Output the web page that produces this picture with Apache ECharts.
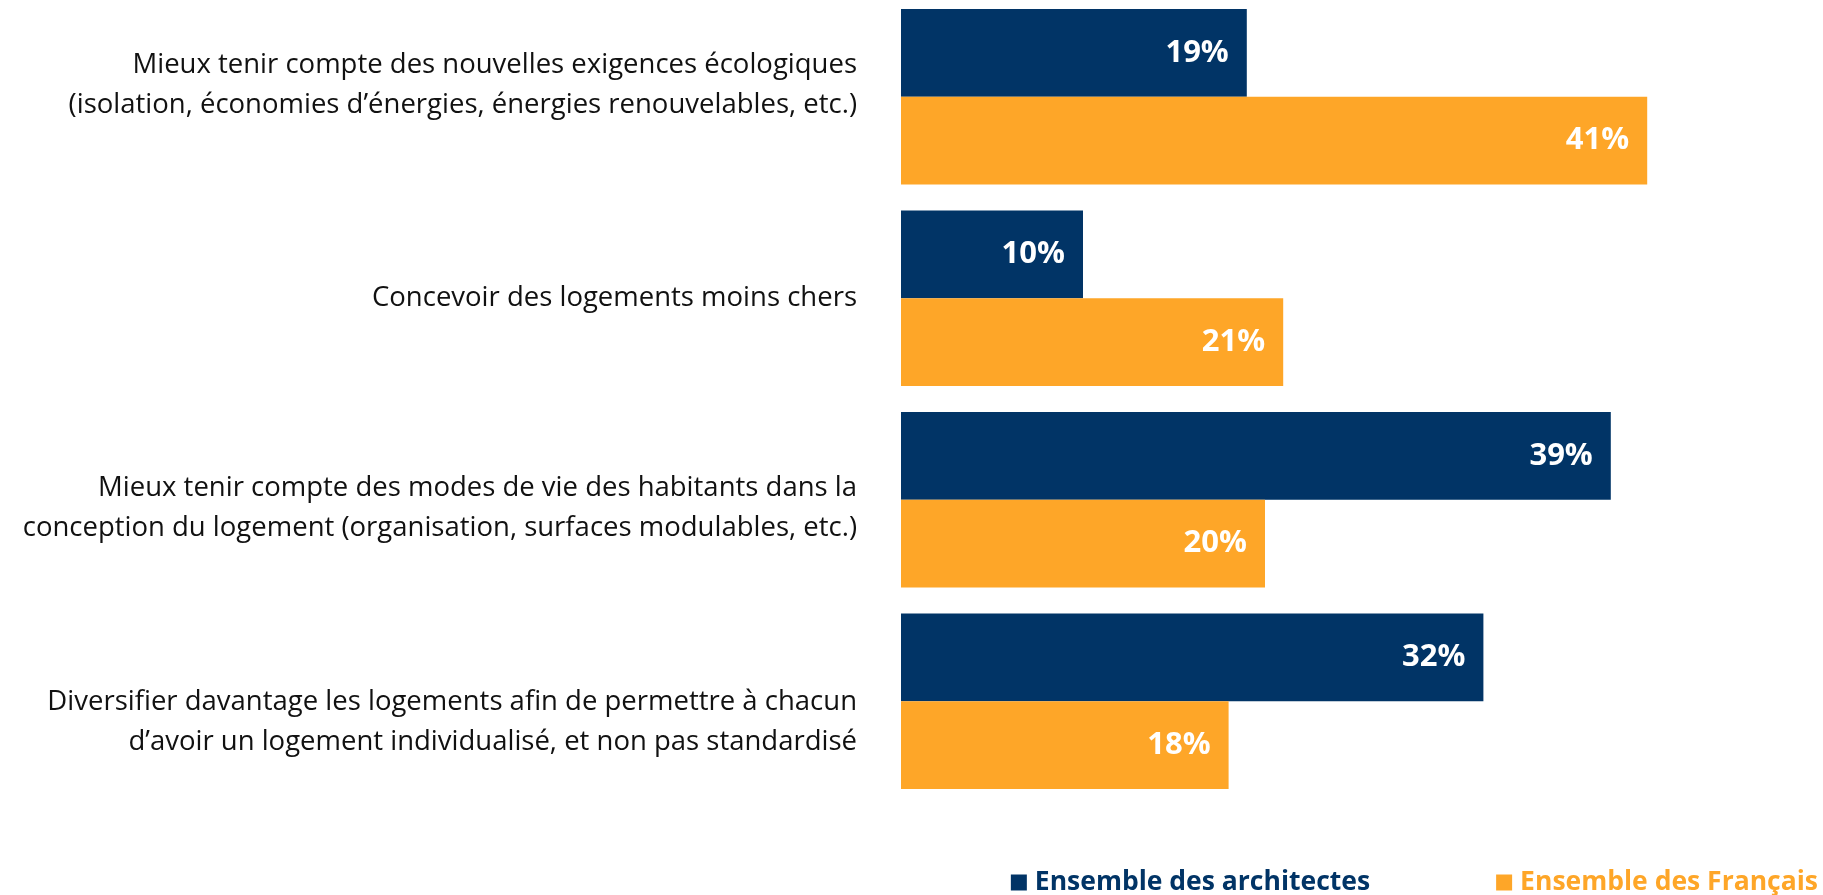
<!DOCTYPE html>
<html>
<head>
<meta charset="utf-8">
<script src="https://cdn.jsdelivr.net/npm/echarts@6/dist/echarts.min.js"></script>
<style>
    html, body { margin: 0; padding: 0; background: #fff; }
    #chart { width: 1823px; height: 895px; }
</style>
</head>
<body>
<div id="chart"></div>
<script>
var categories = [
    'Mieux tenir compte des nouvelles exigences écologiques\n(isolation, économies d’énergies, énergies renouvelables, etc.)',
    'Concevoir des logements moins chers',
    'Mieux tenir compte des modes de vie des habitants dans la\nconception du logement (organisation, surfaces modulables, etc.)',
    'Diversifier davantage les logements afin de permettre à chacun\nd’avoir un logement individualisé, et non pas standardisé'
];
var architectes = [19, 10, 39, 32];
var francais = [41, 21, 20, 18];
var seriesNames = ['Ensemble des architectes', 'Ensemble des Français'];

// vertical nudges of the category labels (negative = up), as on the original slide
var labelShift = [-24, 0, 17, 42];

var navy = '#013466';
var orange = '#FEA628';

var chartDom = document.getElementById('chart');
var myChart = echarts.init(chartDom);

var barLabel = {
    show: true,
    position: 'insideRight',
    distance: 18,
    color: '#fff',
    fontFamily: 'Open Sans',
    fontWeight: 'bold',
    fontSize: 31,
    formatter: '{c}%'
};

var labelRich = {
    t: {
        color: '#111',
        fontFamily: 'Open Sans',
        fontSize: 27.5,
        lineHeight: 40,
        align: 'right'
    }
};
labelShift.forEach(function (s) {
    if (s !== 0) {
        labelRich['g' + Math.abs(s)] = { fontSize: 1, lineHeight: Math.abs(s) };
    }
});

function formatLabel(value, index) {
    var lines = value.split('\n').map(function (l) {
        return '{t|' + l + '}';
    });
    var s = labelShift[index];
    if (s < 0) {
        lines.push('{g' + (-s) + '| }');
    } else if (s > 0) {
        lines.unshift('{g' + s + '| }');
    }
    return lines.join('\n');
}

var option = {
    animation: false,
    backgroundColor: '#fff',
    grid: {
        left: 901,
        top: -4,
        height: 806,
        width: 910,
        containLabel: false,
        outerBoundsMode: 'none'
    },
    legend: {
        right: 0,
        top: 864,
        itemWidth: 16,
        itemHeight: 16,
        itemGap: 126,
        icon: 'rect',
        textStyle: {
            fontFamily: 'Open Sans',
            fontWeight: 'bold',
            fontSize: 26.5,
            padding: [0, 0, 0, 3]
        },
        data: [
            { name: seriesNames[0], textStyle: { color: navy } },
            { name: seriesNames[1], textStyle: { color: orange } }
        ]
    },
    xAxis: {
        type: 'value',
        min: 0,
        max: 50,
        show: false
    },
    yAxis: {
        type: 'category',
        inverse: true,
        data: categories,
        axisLine: { show: false },
        axisTick: { show: false },
        axisLabel: {
            margin: 44,
            align: 'right',
            formatter: formatLabel,
            rich: labelRich
        }
    },
    series: [
        {
            name: seriesNames[0],
            type: 'bar',
            data: architectes,
            itemStyle: { color: navy },
            barGap: '0%',
            barCategoryGap: '12.9%',
            label: barLabel
        },
        {
            name: seriesNames[1],
            type: 'bar',
            data: francais,
            itemStyle: { color: orange },
            barGap: '0%',
            barCategoryGap: '12.9%',
            label: barLabel
        }
    ]
};
myChart.setOption(option);
</script>
</body>
</html>
